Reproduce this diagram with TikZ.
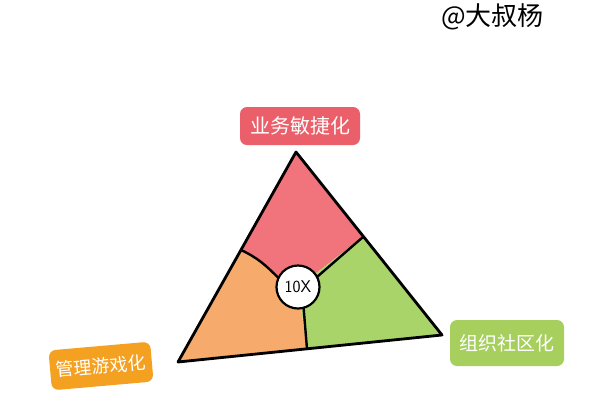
\documentclass[tikz,border=0pt]{standalone}
\usepackage{fontspec}
\newfontfamily\cjk{Noto Sans CJK SC}
\definecolor{redfill}{HTML}{F1737C}
\definecolor{orangefill}{HTML}{F6AA6C}
\definecolor{greenfill}{HTML}{A9D46A}
\definecolor{redlabel}{HTML}{EA5F69}
\definecolor{orangelabel}{HTML}{F4A021}
\definecolor{greenlabel}{HTML}{A6CF5E}
\begin{document}
\begin{tikzpicture}[x=1pt,y=-1pt,
  edge/.style={line width=2.8pt,line join=round,line cap=round,black},
  inner/.style={line width=2.4pt,line cap=round,black},
  tag/.style={rounded corners=7pt,text=white,inner sep=0pt},
  hub/.style={circle,minimum size=43pt,inner sep=0pt},
]
\useasboundingbox (0,0) rectangle (600,400);
\fill[white] (0,0) rectangle (600,400);
% vertices and boundary points
\coordinate (A) at (296,152);
\coordinate (L) at (178,362);
\coordinate (R) at (442,335);
\coordinate (Pl) at (241,250);
\coordinate (Pr) at (363,237);
\coordinate (Pb) at (307,349);
\node[hub] (c0) at (298,287) {};
% regions
\fill[redfill] (A) -- (Pr) -- (c0.center) -- (c0.155) to[out=135,in=-25] (Pl) -- cycle;
\fill[greenfill] (Pr) -- (R) -- (Pb) -- (c0.center) -- cycle;
\fill[orangefill] (Pl) to[out=-25,in=135] (c0.155) -- (c0.center) -- (Pb) -- (L) -- cycle;
% inner boundaries
\draw[inner] (Pl) to[out=-25,in=135] (c0.155);
\draw[inner] (Pr) -- (c0.28);
\draw[inner] (c0.-75) -- (Pb);
% triangle outline
\draw[edge] (A) -- (R) -- (L) -- cycle;
% centre
\node[hub,draw,line width=2.2pt,fill=white,font=\sffamily\fontsize{17}{17}\selectfont] (c) at (298,287) {10X};
% labels
\node[tag,fill=redlabel,minimum width=120pt,minimum height=38pt,font=\cjk\fontsize{20}{20}\selectfont] (top) at (300,126) {业务敏捷化};
\node[tag,fill=orangelabel,minimum width=102pt,minimum height=40pt,rotate=5,font=\cjk\fontsize{18}{18}\selectfont] (left) at (101,366) {管理游戏化};
\node[tag,fill=greenlabel,minimum width=114pt,minimum height=46pt,font=\cjk\fontsize{19}{19}\selectfont] (right) at (507,343) {组织社区化};
\node[font=\cjk\fontsize{26}{26}\selectfont,anchor=west,inner sep=0pt] (sig) at (441,17) {@大叔杨};
\end{tikzpicture}
\end{document}
